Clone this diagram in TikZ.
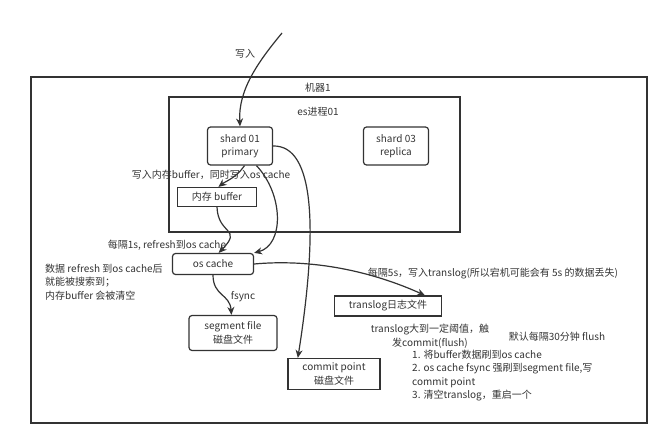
\documentclass[tikz,border=0pt]{standalone}
\usepackage{fontspec}
\setmainfont{Noto Sans CJK SC}
\usepackage{tikz}
\usetikzlibrary{arrows.meta,positioning}
\definecolor{ink}{HTML}{333333}

\begin{document}
\begin{tikzpicture}[
  x=1pt, y=-1pt, >={Stealth[length=8pt,width=7pt]},
  font=\fontsize{10}{13.5}\selectfont, text=ink,
  blk/.style={draw=ink, line width=1.2pt, rounded corners=3pt, align=center, inner sep=1pt, minimum width=#1},
  sqblk/.style={blk=#1, rounded corners=0pt},
  lab/.style={inner sep=0pt, align=left},
  conn/.style={->, draw=ink, line width=1.2pt}]
\useasboundingbox (0,0) rectangle (655,433);
% machine and es process frames
\draw[ink, line width=1.2pt] (31,77) rectangle (647,423);
\draw[ink, line width=1.2pt] (169,97) rectangle (460,232);
\node[lab] (mach) at (318,88) {机器1};
\node[lab] (proc) at (318,112) {es进程01};
% boxes
\node[blk=65pt, minimum height=38pt] (sh1) at (240,146) {shard 01\\primary};
\node[blk=65pt, minimum height=38pt] (sh3) at (396,146) {shard 03\\replica};
\node[sqblk=79pt, minimum height=19pt] (buf) at (217,197) {内存 buffer};
\node[blk=81pt, minimum height=21pt] (osc) at (213,264) {os cache};
\node[blk=88pt, minimum height=35pt] (seg) at (233,333) {segment file\\磁盘文件};
\node[sqblk=107pt, minimum height=20pt] (tlog) at (388,306) {translog日志文件};
\node[sqblk=92pt, minimum height=31pt] (commit) at (334,374) {commit point\\磁盘文件};
% labels
\coordinate (src) at (282,33);
\node[lab] (lwrite) at (245,54) {写入};
\node[lab] (lbuf) at (211,175) {写入内存buffer，同时写入os cache};
\node[lab] (lref) at (167,245) {每隔1s, refresh到os cache};
\node[lab, anchor=west] (lsearch) at (45,282) {数据 refresh 到os cache后\\就能被搜索到；\\内存buffer 会被清空};
\node[lab] (lfsync) at (243,297) {fsync};
\node[lab] (l5s) at (493,274) {每隔5s，写入translog(所以宕机可能会有 5s 的数据丢失)};
\node[lab, align=center] (lflush) at (430,336) {translog大到一定阈值，触\\发commit(flush)};
\node[lab] (l30) at (557,337) {默认每隔30分钟 flush};
\node[lab, anchor=west] (lsteps) at (412,375.5) {1. 将buffer数据刷到os cache\\2. os cache fsync 强刷到segment file,写\\commit point\\3. 清空translog，重启一个};
% connectors
\draw[conn] (src) .. controls (258,62) and (238,90) .. (sh1.north);
\draw[conn] (sh1.283) .. controls (236,178) and (226,181) .. (buf.82);
\draw[conn] (buf.south) .. controls (218,235) and (243,228) .. (osc.63);
\draw[conn] (sh1.310) .. controls (284,195) and (284,245) .. (osc.north east);
\draw[conn] (sh1.east) .. controls (315,145) and (318,230) .. (commit.156);
\draw[conn] (osc.east) .. controls (320,258) and (380,275) .. (tlog.16);
\draw[conn] (osc.south) .. controls (213,296) and (230,294) .. (seg.95);
\end{tikzpicture}
\end{document}
